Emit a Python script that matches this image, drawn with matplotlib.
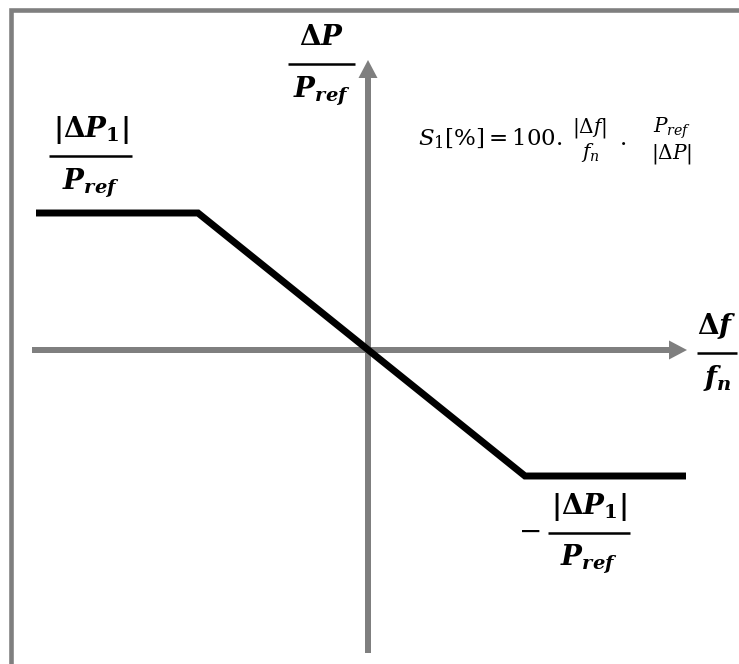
import matplotlib.pyplot as plt
from matplotlib.lines import Line2D

plt.rcParams['mathtext.fontset'] = 'dejavuserif'

# droop characteristic: frequency deviation vs. power change (1 unit = 100 px)
freq_dev = [-3.32, -1.70, 1.57, 3.18]
power_dev = [1.37, 1.37, -1.26, -1.26]

# extent of the two coordinate arrows
h_axis = [-3.36, 3.19]
v_axis = [-3.03, 2.90]

gray = '#7f7f7f'

fig = plt.figure(figsize=(7.39, 6.64), dpi=100)
ax = fig.add_axes([0, 0, 1, 1])
ax.set_xlim(-3.68, 3.71)
ax.set_ylim(-3.14, 3.50)
ax.axis('off')

# frame (only top and left edges are visible)
bx, by = 11 / 739, 1 - 9.5 / 664
fig.add_artist(Line2D([bx, bx, 1.01], [-0.01, by, by], transform=fig.transFigure,
                      color=gray, lw=3.3, solid_joinstyle='miter'))

# axes with arrow heads
ax.arrow(h_axis[0], 0, h_axis[1] - h_axis[0], 0, width=0.06, head_width=0.19,
         head_length=0.18, length_includes_head=True, color=gray, lw=0, zorder=1)
ax.arrow(0, v_axis[0], 0, v_axis[1] - v_axis[0], width=0.06, head_width=0.19,
         head_length=0.18, length_includes_head=True, color=gray, lw=0, zorder=1)

ax.plot(freq_dev, power_dev, color='black', lw=5, solid_joinstyle='miter',
        solid_capstyle='butt', zorder=2)


def frac(x, ybar, num, den, half_w, size=20, up=0.19, down=0.33, lw=1.8):
    ax.text(x, ybar + up, num, ha='center', va='baseline', fontsize=size)
    ax.text(x, ybar - down, den, ha='center', va='baseline', fontsize=size)
    if lw:
        ax.plot([x - half_w, x + half_w], [ybar, ybar], color='black', lw=lw,
                solid_capstyle='butt')


p_ref = r'$\mathbfit{P}_{\mathbfit{ref}}$'
dp1 = r'$\mathbf{|\Delta}\mathbfit{P}_{\mathbf{1}}\mathbf{|}$'

frac(-0.465, 2.86, r'$\mathbf{\Delta}\mathbfit{P}$', p_ref, 0.335)
frac(-2.775, 1.94, dp1, p_ref, 0.415)
frac(2.21, -1.83, dp1, p_ref, 0.41)
ax.text(1.61, -1.81, r'$-$', fontsize=20, ha='center', va='center')
frac(3.49, -0.03, r'$\mathbf{\Delta}\mathbfit{f}$', r'$\mathbfit{f}_{\mathbfit{n}}$', 0.20)

# droop formula (small stacked fractions without bars)
ax.text(0.50, 2.05, r'$S_1[\%] = 100.$', fontsize=16.5, ha='left', va='baseline')
frac(2.22, 2.10, r'$|\Delta f|$', r'$f_n$', 0.19, size=14.5, up=0.07, down=0.18, lw=0)
ax.text(2.55, 2.05, '.', fontsize=16.5, ha='center', va='baseline', family='DejaVu Serif')
frac(3.04, 2.10, r'$P_{ref}$', r'$|\Delta P|$', 0.24, size=14.5, up=0.07, down=0.18, lw=0)

fig.savefig('out.png', dpi=100)
